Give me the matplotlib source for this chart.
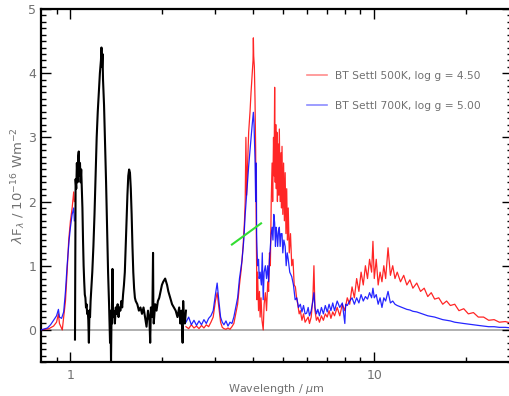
import matplotlib
matplotlib.use("Agg")
import matplotlib.pyplot as plt
import numpy as np
from matplotlib.ticker import FixedLocator, NullFormatter, FixedFormatter

# ---------------- data ----------------
obs_wl = [1.035, 1.040, 1.045, 1.050, 1.055, 1.060, 1.065, 1.070, 1.075, 1.080, 1.085, 1.090,
          1.095, 1.100, 1.105, 1.110, 1.115, 1.120, 1.125, 1.130, 1.135, 1.140, 1.145, 1.150,
          1.155, 1.160, 1.165, 1.170, 1.180, 1.190, 1.200, 1.210, 1.220, 1.230, 1.240, 1.250,
          1.260, 1.265, 1.270, 1.275, 1.280, 1.290, 1.300, 1.310, 1.320, 1.330, 1.340, 1.345,
          1.350, 1.355, 1.360, 1.365, 1.370, 1.375, 1.380, 1.390, 1.400, 1.410, 1.420, 1.430,
          1.440, 1.450, 1.460, 1.470, 1.480, 1.490, 1.500, 1.510, 1.520, 1.530, 1.540, 1.550,
          1.560, 1.570, 1.580, 1.590, 1.600, 1.610, 1.620, 1.630, 1.640, 1.660, 1.680, 1.700,
          1.720, 1.740, 1.760, 1.780, 1.800, 1.820, 1.830, 1.840, 1.860, 1.870, 1.875, 1.880,
          1.900, 1.920, 1.940, 1.960, 1.980, 2.000, 2.020, 2.050, 2.080, 2.100, 2.130, 2.160,
          2.190, 2.220, 2.250, 2.280, 2.300, 2.320, 2.340, 2.350, 2.360, 2.380, 2.400]
obs_flux = [-0.15, 2.35, 2.20, 2.60, 2.30, 2.70, 2.78, 2.40, 2.60, 2.30, 2.50, 2.20,
            1.90, 1.40, 1.00, 0.75, 0.55, 0.50, 0.35, 0.40, 0.25, 0.30, 0.15, -0.20,
            0.30, 0.20, 0.45, 0.60, 0.90, 1.30, 1.80, 2.40, 3.00, 3.40, 3.70, 4.00,
            4.20, 4.40, 4.10, 4.30, 3.90, 3.50, 2.90, 2.30, 1.60, 0.90, 0.40, 0.10,
            -0.20, 0.30, -0.50, 0.20, 0.10, 0.95, 0.20, 0.30, 0.10, 0.35, 0.25, 0.40,
            0.20, 0.35, 0.30, 0.45, 0.35, 0.55, 0.70, 0.90, 1.30, 1.70, 2.10, 2.40,
            2.50, 2.45, 2.20, 1.80, 1.30, 0.90, 0.65, 0.50, 0.45, 0.40, 0.30, 0.35,
            0.25, 0.35, 0.20, 0.05, 0.30, 0.15, -0.20, 0.35, 0.20, 1.20, 0.30, 0.10,
            0.40, 0.30, 0.45, 0.50, 0.60, 0.70, 0.75, 0.80, 0.70, 0.60, 0.50, 0.40,
            0.35, 0.30, 0.20, 0.35, 0.10, 0.30, -0.20, 0.45, 0.20, 0.10, 0.30]

# BT Settl 500K, log g = 4.50 (red)
red_wl_a = [0.80, 0.85, 0.88, 0.90, 0.913, 0.92, 0.93, 0.94, 0.95, 0.963, 0.975, 0.987,
            1.00, 1.013, 1.025, 1.03]
red_fx_a = [0.00, 0.02, 0.06, 0.12, 0.25, 0.10, 0.05, 0.00, 0.20, 0.45, 0.90, 1.40,
            1.70, 1.90, 2.15, 2.00]
red_wl_b = [2.40, 2.45, 2.50, 2.55, 2.60, 2.65, 2.70, 2.75, 2.80, 2.85, 2.90, 2.95, 3.00, 3.04,
            3.08, 3.12, 3.16, 3.20, 3.25, 3.30, 3.35, 3.40, 3.45, 3.50, 3.55, 3.60, 3.65, 3.70,
            3.74, 3.76, 3.78, 3.80, 3.83, 3.86, 3.90, 3.93, 3.96, 3.99, 4.00, 4.01, 4.03, 4.05,
            4.07, 4.09, 4.11, 4.13, 4.16, 4.19, 4.21, 4.24, 4.27, 4.31, 4.34, 4.38, 4.42, 4.46,
            4.49, 4.52, 4.55, 4.58, 4.61, 4.63, 4.66, 4.68, 4.70, 4.72, 4.74, 4.76, 4.78, 4.80,
            4.82, 4.85, 4.87, 4.90, 4.93, 4.95, 4.97, 5.00, 5.03, 5.06, 5.09, 5.12, 5.15, 5.18,
            5.21, 5.25, 5.30, 5.35, 5.40, 5.45, 5.50, 5.55, 5.60, 5.66, 5.71, 5.78, 5.85, 5.92,
            5.99, 6.06, 6.12, 6.20, 6.28, 6.33, 6.38, 6.45, 6.52, 6.60, 6.70, 6.80, 6.90, 7.00,
            7.10, 7.20, 7.30, 7.40, 7.55, 7.70, 7.85, 8.00, 8.15, 8.30, 8.45, 8.60, 8.75, 8.90,
            9.05, 9.20, 9.35, 9.50, 9.65, 9.80, 9.90, 10.0, 10.15, 10.3, 10.45, 10.6, 10.75,
            10.9, 11.1, 11.3, 11.5, 11.7, 11.9, 12.2, 12.5, 12.8, 13.1, 13.4, 13.8, 14.2, 14.6,
            15.0, 15.4, 15.8, 16.3, 16.8, 17.3, 17.8, 18.4, 19.0, 19.7, 20.4, 21.2, 22.0, 22.9,
            23.8, 24.8, 25.8, 27.0, 28.5]
red_fx_b = [0.05, 0.02, 0.08, 0.03, 0.06, 0.02, 0.07, 0.03, 0.08, 0.05, 0.12, 0.20, 0.45, 0.58,
            0.35, 0.12, 0.04, 0.02, 0.01, 0.03, 0.01, 0.05, 0.10, 0.25, 0.40, 0.70, 0.95, 1.30,
            1.70, 2.00, 3.00, 2.10, 2.60, 3.08, 3.40, 3.70, 3.96, 4.20, 4.55, 4.27, 4.10, 3.60,
            2.80, 1.50, 0.47, 0.90, 0.30, 0.60, 0.20, 0.50, 0.15, 0.00, 0.40, 0.58, 0.30, 0.75,
            0.60, 1.20, 1.00, 2.00, 2.60, 2.00, 3.00, 2.40, 3.78, 2.30, 3.20, 2.20, 3.08, 2.00,
            2.90, 2.10, 3.13, 2.00, 2.76, 1.90, 2.86, 1.80, 2.60, 1.70, 2.45, 1.50, 2.20, 1.40,
            1.90, 1.20, 1.50, 1.00, 1.10, 0.70, 0.67, 0.50, 0.40, 0.25, 0.30, 0.15, 0.25, 0.12,
            0.16, 0.20, 0.10, 0.20, 0.50, 1.00, 0.30, 0.15, 0.20, 0.12, 0.22, 0.15, 0.25, 0.20,
            0.30, 0.18, 0.28, 0.22, 0.35, 0.22, 0.40, 0.30, 0.50, 0.40, 0.67, 0.50, 0.80, 0.60,
            0.90, 0.70, 1.00, 0.80, 1.10, 0.90, 1.38, 0.80, 1.10, 0.70, 0.90, 0.75, 1.00,
            0.80, 1.28, 0.85, 1.00, 0.80, 0.90, 0.75, 0.85, 0.70, 0.78, 0.65, 0.73, 0.60, 0.65,
            0.52, 0.58, 0.48, 0.50, 0.40, 0.45, 0.38, 0.40, 0.30, 0.33, 0.25, 0.27, 0.20, 0.20,
            0.15, 0.16, 0.12, 0.13, 0.10]

# BT Settl 700K, log g = 5.00 (blue)
blue_wl_a = [0.80, 0.84, 0.86, 0.88, 0.90, 0.913, 0.92, 0.935, 0.95, 0.963, 0.975, 0.99,
             1.00, 1.013, 1.025, 1.03]
blue_fx_a = [0.00, 0.03, 0.08, 0.15, 0.22, 0.32, 0.20, 0.18, 0.28, 0.60, 1.00, 1.40,
             1.60, 1.80, 1.90, 1.70]
blue_wl_b = [2.40, 2.45, 2.50, 2.55, 2.60, 2.65, 2.70, 2.75, 2.80, 2.85, 2.90, 2.95, 3.00, 3.04,
             3.08, 3.12, 3.16, 3.20, 3.25, 3.30, 3.35, 3.40, 3.45, 3.50, 3.55, 3.60, 3.67, 3.72,
             3.76, 3.80, 3.83, 3.86, 3.90, 3.93, 3.96, 4.00, 4.02, 4.05, 4.07, 4.09, 4.10, 4.11,
             4.13, 4.16, 4.18, 4.21, 4.25, 4.28, 4.31, 4.34, 4.38, 4.42, 4.46, 4.49, 4.52, 4.55,
             4.58, 4.61, 4.64, 4.67, 4.70, 4.73, 4.75, 4.78, 4.81, 4.84, 4.87, 4.90, 4.93, 4.97,
             5.00, 5.04, 5.09, 5.13, 5.17, 5.21, 5.27, 5.35, 5.42, 5.49, 5.56, 5.63, 5.71, 5.78,
             5.85, 5.92, 5.99, 6.06, 6.12, 6.20, 6.28, 6.33, 6.38, 6.45, 6.52, 6.60, 6.70, 6.80,
             6.90, 7.00, 7.10, 7.20, 7.30, 7.40, 7.55, 7.70, 7.85, 8.00, 8.05, 8.15, 8.30, 8.45,
             8.60, 8.75, 8.90, 9.05, 9.20, 9.35, 9.50, 9.65, 9.80, 9.90, 10.0, 10.15, 10.3,
             10.45, 10.6, 10.75, 10.9, 11.1, 11.3, 11.5, 11.7, 11.9, 12.2, 12.5, 12.8, 13.1,
             13.4, 13.8, 14.2, 14.6, 15.0, 15.4, 15.8, 16.3, 16.8, 17.3, 17.8, 18.4, 19.0, 19.7,
             20.4, 21.2, 22.0, 22.9, 23.8, 24.8, 25.8, 27.0, 28.5]
blue_fx_b = [0.12, 0.20, 0.08, 0.15, 0.07, 0.14, 0.08, 0.16, 0.10, 0.18, 0.22, 0.30, 0.55, 0.73,
             0.45, 0.20, 0.12, 0.08, 0.14, 0.06, 0.12, 0.10, 0.20, 0.35, 0.50, 0.80, 1.08, 1.40,
             1.80, 2.10, 2.30, 2.55, 2.80, 3.00, 3.17, 3.39, 3.20, 2.66, 2.00, 2.60, 1.50, 1.30,
             1.00, 1.10, 0.80, 0.90, 0.70, 1.20, 0.47, 0.90, 1.00, 0.80, 1.00, 0.75, 1.10, 1.30,
             1.50, 1.60, 1.40, 1.80, 1.67, 1.30, 1.60, 1.50, 1.30, 1.55, 1.60, 1.30, 1.50, 1.50,
             1.20, 1.40, 1.30, 1.00, 1.20, 1.10, 0.90, 0.83, 0.70, 0.47, 0.50, 0.35, 0.40, 0.28,
             0.38, 0.25, 0.26, 0.35, 0.22, 0.30, 0.45, 0.58, 0.35, 0.25, 0.32, 0.22, 0.35, 0.25,
             0.38, 0.28, 0.40, 0.30, 0.42, 0.30, 0.45, 0.35, 0.42, 0.10, 0.40, 0.38, 0.45, 0.50,
             0.40, 0.50, 0.42, 0.55, 0.45, 0.52, 0.48, 0.58, 0.50, 0.65, 0.50, 0.55, 0.40,
             0.50, 0.35, 0.50, 0.45, 0.60, 0.42, 0.45, 0.40, 0.38, 0.36, 0.34, 0.32, 0.31,
             0.29, 0.28, 0.26, 0.24, 0.22, 0.21, 0.20, 0.18, 0.16, 0.15, 0.14, 0.12, 0.11, 0.10,
             0.09, 0.08, 0.07, 0.06, 0.05, 0.05, 0.04, 0.04, 0.03]

# green photometric segment
green_wl = [3.40, 4.24]
green_fx = [1.33, 1.66]

legend_labels = ["BT Settl 500K, log g = 4.50", "BT Settl 700K, log g = 5.00"]
x_major = [1, 10]
x_major_labels = ["1", "10"]
x_minor = [0.9, 2, 3, 4, 5, 6, 7, 8, 9, 20]
y_major = [0, 1, 2, 3, 4, 5]

# ---------------- figure ----------------
plt.rcParams['font.family'] = ['DejaVu Sans']
fig = plt.figure(figsize=(5.10, 3.96), dpi=100)
ax = fig.add_axes([41/510, 34/396, 471/510, 353/396])

gray_txt = '#707070'

ax.axhline(0, color='#aaaaaa', lw=1.3, zorder=1)

ax.plot(red_wl_a, red_fx_a, color='#ff0000', lw=0.9, alpha=0.85, zorder=2)
ax.plot(red_wl_b, red_fx_b, color='#ff0000', lw=0.9, alpha=0.85, zorder=2,
        label=legend_labels[0])
ax.plot(blue_wl_a, blue_fx_a, color='#0000ff', lw=0.9, alpha=0.85, zorder=3)
ax.plot(blue_wl_b, blue_fx_b, color='#0000ff', lw=0.9, alpha=0.85, zorder=3,
        label=legend_labels[1])
ax.plot(obs_wl, obs_flux, color='black', lw=1.5, zorder=4)
ax.plot(green_wl, green_fx, color='#33dd33', lw=1.5, zorder=5)

ax.set_xscale('log')
ax.set_xlim(0.80, 28.4)
ax.set_ylim(-0.5, 5.0)

ax.xaxis.set_major_locator(FixedLocator(x_major))
ax.xaxis.set_major_formatter(FixedFormatter(x_major_labels))
ax.xaxis.set_minor_locator(FixedLocator(x_minor))
ax.xaxis.set_minor_formatter(NullFormatter())
ax.yaxis.set_major_locator(FixedLocator(y_major))
ax.yaxis.set_minor_locator(FixedLocator([i/10 for i in range(-5, 51)]))

ax.tick_params(which='both', direction='in', top=True, right=True, colors='black',
               labelcolor=gray_txt, labelsize=9, width=1.0)
ax.tick_params(which='major', length=7)
ax.tick_params(which='minor', length=3.5)
ax.tick_params(axis='x', pad=5)
ax.tick_params(axis='y', pad=3.5)

for s in ax.spines.values():
    s.set_linewidth(1.6)
    s.set_color('black')

ax.set_xlabel('Wavelength / $\\mu$m', color=gray_txt, fontsize=8, labelpad=0)
ax.set_ylabel('$\\lambda$F$_\\lambda$ / 10$^{-16}$ Wm$^{-2}$', color=gray_txt,
              fontsize=9.5, labelpad=0)

leg = ax.legend(loc='upper left', bbox_to_anchor=(0.565, 0.825), frameon=False,
                fontsize=7.7, handlelength=1.9, labelspacing=1.85, borderpad=0,
                borderaxespad=0, handletextpad=0.75)
for t in leg.get_texts():
    t.set_color(gray_txt)
for h in leg.get_lines():
    h.set_alpha(0.45)
    h.set_linewidth(1.2)

fig.savefig('out.png', dpi=100, facecolor='white')
